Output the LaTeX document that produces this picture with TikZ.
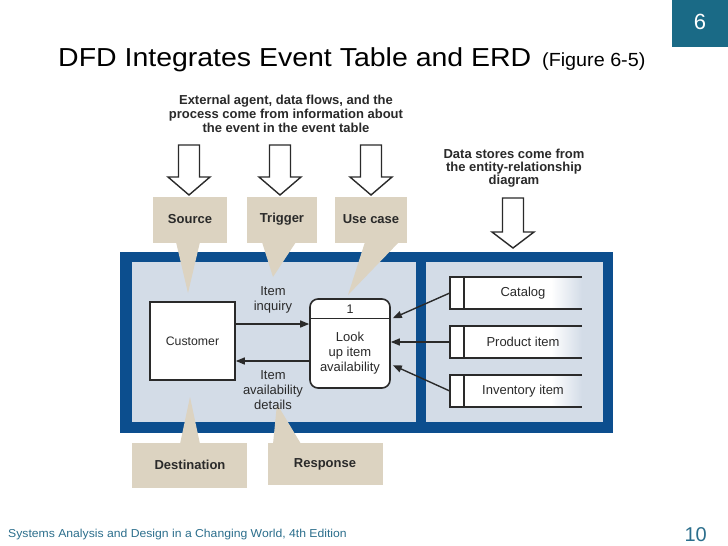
\documentclass[tikz,border=0pt]{standalone}
\usepackage{fontspec}
\setmainfont{Liberation Sans}
\usetikzlibrary{arrows.meta,calc}
\definecolor{tealbox}{HTML}{1A6A86}
\definecolor{footteal}{HTML}{2B6E8C}
\definecolor{frameblue}{HTML}{0C4E8E}
\definecolor{panel}{HTML}{D3DCE7}
\definecolor{tan}{HTML}{DCD3C1}
\definecolor{ink}{HTML}{2A2A2A}
\newcommand\fsz[2]{\fontsize{#1pt}{#2pt}\selectfont}
\tikzset{
  txt/.style={inner sep=0pt, align=center, text=ink},
  hollow/.style={draw=ink, line width=1.4pt, fill=white, line join=miter},
  callout/.style={fill=tan},
  flow/.style={draw=ink, line width=1.4pt, -{Triangle[length=9pt,width=7pt]}},
  boxline/.style={draw=ink, line width=1.6pt},
}
\begin{document}
\begin{tikzpicture}[x=1pt,y=-1pt]
\useasboundingbox (0,0) rectangle (728,546);
\fill[white] (0,0) rectangle (728,546);

% slide decorations
\fill[tealbox] (672,0) rectangle (728,47);
\node[inner sep=0pt, text=white, font=\fsz{22}{24}] (pg) at (700,22) {6};
\node[inner sep=0pt, anchor=base west, text=black, font=\fsz{26}{28}] (title) at (58,66)
  {\scalebox{1.095}[1]{DFD Integrates Event Table and ERD}};
\node[inner sep=0pt, anchor=base west, text=black, font=\fsz{19}{21}] (fig) at (542,66)
  {\scalebox{1.04}[1]{(Figure 6-5)}};
\node[inner sep=0pt, anchor=base west, text=footteal, font=\fsz{11.5}{12}] (foot) at (8,537)
  {\scalebox{1.06}[1]{Systems Analysis and Design in a Changing World, 4th Edition}};
\node[inner sep=0pt, anchor=base east, text=footteal, font=\fsz{20}{21}] (num) at (707,541) {10};

% top explanation texts
\node[txt, font=\fsz{13}{14}\bfseries] (toptext) at (286,114)
  {External agent, data flows, and the\\process come from information about\\the event in the event table};
\node[txt, font=\fsz{13}{13}\bfseries] (dstext) at (514,168)
  {Data stores come from\\the entity-relationship\\diagram};

% hollow arrows
\foreach \cx/\ty/\hy/\tip in {189/145/177/195, 280/145/177/195, 371/145/177/195, 513/198/232/248}{
  \draw[hollow] (\cx-10.5,\ty) -- (\cx-10.5,\hy) -- (\cx-21,\hy) -- (\cx,\tip) -- (\cx+21,\hy)
     -- (\cx+10.5,\hy) -- (\cx+10.5,\ty) -- cycle;
}

% frame
\fill[frameblue] (120,252) rectangle (613,433);
\fill[panel] (132,262) rectangle (416,422);
\fill[panel] (426,262) rectangle (603,422);

% callouts top
\fill[callout] (153,197) rectangle (227,243);
\fill[callout] (176,242) -- (200,242) -- (188,293) -- cycle;
\node[txt, font=\fsz{13}{14}\bfseries] (source) at (190,219) {Source};
\fill[callout] (247,197) rectangle (317,243);
\fill[callout] (262,242) -- (296,242) -- (273,277) -- cycle;
\node[txt, font=\fsz{13}{14}\bfseries] (trigger) at (282,219) {Trigger};
\fill[callout] (335,197) rectangle (407,243);
\fill[callout] (365,242) -- (399,242) -- (348,295) -- cycle;
\node[txt, font=\fsz{13}{14}\bfseries] (usecase) at (371,219) {Use case};

% callouts bottom
\fill[callout] (132,443) rectangle (247,488);
\fill[callout] (180,444) -- (200,444) -- (190,397) -- cycle;
\node[txt, font=\fsz{13}{14}\bfseries] (dest) at (190,465) {Destination};
\fill[callout] (268,443) rectangle (383,485);
\fill[callout] (273,444) -- (301,444) -- (277,404) -- cycle;
\node[txt, font=\fsz{13}{14}\bfseries] (resp) at (325,464) {Response};

% customer
\node[boxline, fill=white, minimum width=85pt, minimum height=78pt, inner sep=0pt,
      font=\fsz{12.3}{13}, text=ink] (cust) at (192.5,341) {Customer};

% process
\node[boxline, fill=white, rounded corners=8pt, minimum width=80pt, minimum height=89pt,
      inner sep=0pt] (proc) at (350,343.5) {};
\draw[ink, line width=1.4pt] ($(proc.north west)+(0,20)$) -- ($(proc.north east)+(0,20)$);
\node[txt, font=\fsz{12.5}{13}] (pnum) at (350,309) {1};
\node[txt, font=\fsz{13}{15}] (ptext) at (350,353) {Look\\up item\\availability};

% flows
\coordinate (y1) at (0,324);
\coordinate (y2) at (0,361);
\draw[flow] (cust.east |- y1) -- (proc.west |- y1);
\draw[flow] (proc.west |- y2) -- (cust.east |- y2);
\node[txt, font=\fsz{13}{15}] (inq) at (273,299.5) {Item\\inquiry};
\node[txt, font=\fsz{13}{15}] (det) at (273,390) {Item\\availability\\details};

% data stores
\foreach \nm/\yc/\lbl in {cat/293/Catalog, prod/342/Product item, inv/391/Inventory item}{
  \fill[white] (450,\yc-16) rectangle (552,\yc+16);
  \shade[left color=white, right color=panel] (551,\yc-16) rectangle (582,\yc+16);
  \node[inner sep=0pt, minimum width=132pt, minimum height=32pt] (\nm) at (516,\yc) {};
  \draw[ink, line width=1.5pt] (582,\yc-16) -- (450,\yc-16) -- (450,\yc+16) -- (582,\yc+16);
  \draw[ink, line width=1.5pt] (464,\yc-16) -- (464,\yc+16);
  \node[txt, font=\fsz{13}{14}] at (523,\yc) {\lbl};
}
\draw[flow] (cat.west) -- ($(proc.north east)+(2,20)$);
\draw[flow] (prod.west) -- (proc.east |- prod.west);
\draw[flow] (inv.west) -- ($(proc.north east)+(2,67)$);
\end{tikzpicture}
\end{document}
